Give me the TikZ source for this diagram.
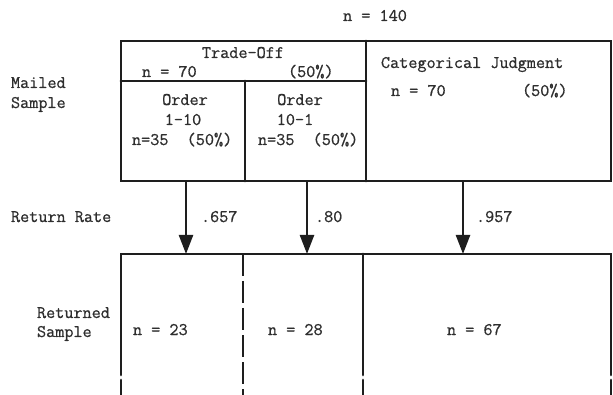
\documentclass[tikz,border=0pt]{standalone}
\usepackage{fontspec}
\usetikzlibrary{arrows.meta}
\newfontfamily\twfont{Latin Modern Mono}[FakeBold=0.8]
\definecolor{ink}{HTML}{1E1E1E}
\definecolor{txtc}{HTML}{2E2E2E}
\tikzset{
  rule/.style={draw=ink, line width=2.7pt, line cap=round},
  dashrule/.style={draw=ink, line width=2.4pt, dash pattern=on 22pt off 5pt},
  flow/.style={draw=ink, line width=2.4pt, -{Triangle[length=19pt,width=14pt]}},
  txt/.style={inner sep=0pt, outer sep=0pt, text=txtc, font=\twfont\fontsize{17.7}{20}\selectfont},
}
\begin{document}
\begin{tikzpicture}[x=1pt, y=-1pt]
\useasboundingbox (0,0) rectangle (613,395);
% mailed sample box
\coordinate (tl) at (121,41);
\coordinate (br) at (611,181);
\draw[rule] (tl) rectangle (br);
\draw[rule] (121,81) -- (366,81);
\draw[rule] (366,41) -- (366,181);
\draw[rule] (245,81) -- (245,181);
% returned sample box
\draw[rule] (121,375) -- (121,254) -- (611,254) -- (611,375);
\draw[rule] (363,254) -- (363,375);
\draw[rule] (121,380) -- (121,397);
\draw[rule] (611,380) -- (611,397);
\draw[rule] (363,380) -- (363,397);
\draw[dashrule] (243,254) -- (243,397);
% arrows
\coordinate (s1) at (186,181); \coordinate (e1) at (186,254);
\coordinate (s2) at (307,181); \coordinate (e2) at (307,254);
\coordinate (s3) at (463,181); \coordinate (e3) at (463,254);
\draw[flow] (s1) -- (e1);
\draw[flow] (s2) -- (e2);
\draw[flow] (s3) -- (e3);
% texts
\node[txt, anchor=base] (ntot) at (375,21) {n = 140};
\node[txt, anchor=base] (to) at (243,58) {Trade-Off};
\node[txt, anchor=base west] (to70) at (142,77) {n = 70};
\node[txt, anchor=base west] (to50) at (288,77) {(50\%)};
\node[txt, anchor=base west] (cj) at (381,68) {Categorical Judgment};
\node[txt, anchor=base west] (cj70) at (391,96) {n = 70};
\node[txt, anchor=base west] (cj50) at (522,96) {(50\%)};
\node[txt, anchor=base west] (mail) at (11,88) {Mailed};
\node[txt, anchor=base west] (msam) at (11,108) {Sample};
\node[txt, anchor=base] (o1) at (185,105) {Order};
\node[txt, anchor=base] (o1r) at (183,125) {1-10};
\node[txt, anchor=base west] (o1n) at (132,145) {n=35\ \ (50\%)};
\node[txt, anchor=base] (o2) at (300,105) {Order};
\node[txt, anchor=base] (o2r) at (295,125) {10-1};
\node[txt, anchor=base west] (o2n) at (258,145) {n=35\ \ (50\%)};
\node[txt, anchor=base west] (rr) at (11,222) {Return Rate};
\node[txt, anchor=base west] (r1) at (201,222) {.657};
\node[txt, anchor=base west] (r2) at (315,222) {.80};
\node[txt, anchor=base west] (r3) at (476,222) {.957};
\node[txt, anchor=base west] (ret) at (37,318) {Returned};
\node[txt, anchor=base west] (rsam) at (37,337) {Sample};
\node[txt, anchor=base west] (n23) at (133,335) {n = 23};
\node[txt, anchor=base west] (n28) at (268,335) {n = 28};
\node[txt, anchor=base west] (n67) at (447,335) {n = 67};
\end{tikzpicture}
\end{document}
